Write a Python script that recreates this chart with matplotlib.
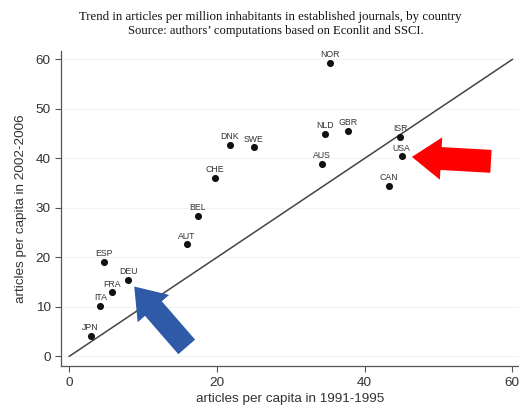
import matplotlib
matplotlib.use("Agg")
import matplotlib.pyplot as plt
from matplotlib.patches import FancyArrowPatch, ArrowStyle

countries = ["JPN", "ITA", "FRA", "ESP", "DEU", "AUT", "BEL", "CHE", "DNK", "SWE",
             "NOR", "AUS", "NLD", "GBR", "ISR", "USA", "CAN"]
x_1991_1995 = [2.9, 4.2, 5.8, 4.7, 8.0, 15.9, 17.4, 19.7, 21.7, 25.0,
               35.3, 34.2, 34.6, 37.7, 44.8, 45.0, 43.3]
y_2002_2006 = [4.2, 10.2, 12.9, 19.1, 15.4, 22.6, 28.3, 36.1, 42.8, 42.2,
               59.2, 38.8, 45.0, 45.6, 44.3, 40.4, 34.5]
diag = [0, 60]
xticks = [0, 20, 40, 60]
yticks = [0, 10, 20, 30, 40, 50, 60]
red_arrow = [(57.1, 39.4), (46.4, 40.3)]
blue_arrow = [(15.9, 1.9), (8.8, 14.1)]

fig = plt.figure(figsize=(5.19, 4.07), dpi=100)
ax = fig.add_axes([61/519, 41/407, (519-61)/519, (366-51)/407])
ax.set_xlim(-1.12, 60.9)
ax.set_ylim(-1.96, 61.7)

for yv in yticks:
    ax.axhline(yv, color="#f2f2f2", lw=0.8, zorder=0)

ax.plot(diag, diag, color="#444444", lw=1.1, zorder=2)
ax.scatter(x_1991_1995, y_2002_2006, s=26, color="#111111", zorder=3, linewidths=0)
for c, xv, yv in zip(countries, x_1991_1995, y_2002_2006):
    ax.annotate(c, (xv, yv), xytext=(0, 2.8), textcoords="offset points",
                ha="center", va="bottom", fontsize=6.3, color="#333333",
                family="Liberation Sans")

arrow_specs = [(red_arrow, "#ff0000", 21, 30.5, 16.5), (blue_arrow, "#2f5aa8", 21, 30, 16)]
for pts, col, hl, hw, tw in arrow_specs:
    arr = FancyArrowPatch(pts[0], pts[1],
                          arrowstyle=ArrowStyle.Simple(head_length=hl, head_width=hw, tail_width=tw),
                          color=col, shrinkA=0, shrinkB=0, lw=0, zorder=4)
    ax.add_patch(arr)

for s in ["top", "right"]:
    ax.spines[s].set_visible(False)
for s in ["left", "bottom"]:
    ax.spines[s].set_color("#555555")
    ax.spines[s].set_linewidth(0.9)
ax.set_xticks(xticks)
ax.set_yticks(yticks)
ax.tick_params(colors="#555555", labelcolor="#333333", labelsize=9.7, length=4, width=0.8)
ax.tick_params(axis="x", pad=4)
for lab in ax.get_xticklabels() + ax.get_yticklabels():
    lab.set_family("Liberation Sans")
ax.set_xlabel("articles per capita in 1991-1995", fontsize=9.7, color="#333333",
              family="Liberation Sans", labelpad=3)
ax.set_ylabel("articles per capita in 2002-2006", fontsize=9.7, color="#333333",
              family="Liberation Sans", labelpad=6)

fig.text(270.5/519, 1 - 17/407, "Trend in articles per million inhabitants in established journals, by country",
         ha="center", va="center", fontsize=9.3, family="Liberation Serif", color="#111111")
fig.text(276/519, 1 - 31/407, "Source: authors\u2019 computations based on Econlit and SSCI.",
         ha="center", va="center", fontsize=9.1, family="Liberation Serif", color="#111111")

fig.savefig("out.png", dpi=100)
